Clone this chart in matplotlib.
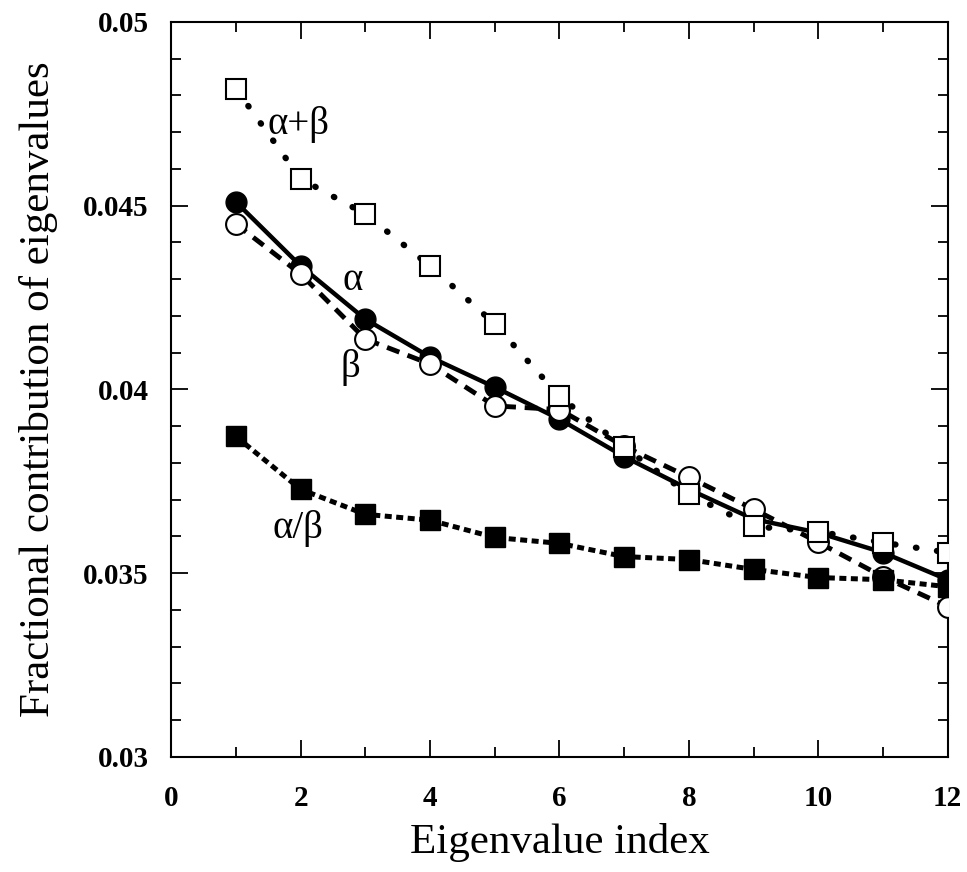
import matplotlib
matplotlib.use("Agg")
import matplotlib.pyplot as plt
from matplotlib.ticker import MultipleLocator, FuncFormatter

idx = [1, 2, 3, 4, 5, 6, 7, 8, 9, 10, 11, 12]
alpha = [0.0451, 0.04336, 0.04191, 0.04088, 0.04006, 0.03919, 0.03817, 0.03728, 0.03647, 0.0361, 0.03556, 0.03482]
beta = [0.0445, 0.04314, 0.04137, 0.04069, 0.03955, 0.03945, 0.03845, 0.03761, 0.03674, 0.03584, 0.0349, 0.03409]
alpha_plus_beta = [0.04818, 0.04573, 0.04477, 0.04336, 0.04178, 0.03981, 0.03842, 0.03715, 0.03627, 0.03613, 0.03583, 0.03556]
alpha_over_beta = [0.03872, 0.03728, 0.0366, 0.03644, 0.03597, 0.03581, 0.03545, 0.03537, 0.0351, 0.03488, 0.03482, 0.03463]

xlabel = "Eigenvalue index"
ylabel = "Fractional contribution of eigenvalues"

fig = plt.figure(figsize=(9.67, 8.72), dpi=100)
ax = fig.add_axes([0.177, 0.132, 0.803, 0.843])

ax.plot(idx, alpha, color="black", lw=3.2, ls="-", marker="o", ms=15,
        mfc="black", mec="black", zorder=3)
ax.plot(idx, beta, color="black", lw=3.5, ls=(0, (2.7, 1.8)), marker="o", ms=15,
        mfc="white", mec="black", mew=1.5, zorder=4)
ax.plot(idx, alpha_over_beta, color="black", lw=3.6, ls=(0, (1.4, 0.9)), marker="s", ms=15,
        mfc="black", mec="black", zorder=5, dash_capstyle="butt")
ax.plot(idx, alpha_plus_beta, color="black", lw=4.5, ls=(0, (0.1, 3.3)), marker="s", ms=15,
        mfc="white", mec="black", mew=1.5, zorder=6, dash_capstyle="round")

tfont = dict(family="Liberation Serif", fontsize=28)
ax.text(1.97, 0.0472, "α+β", ha="center", va="center", **tfont)
ax.text(2.80, 0.04295, "α", ha="center", va="center", **tfont)
ax.text(2.77, 0.0406, "β", ha="center", va="center", **tfont)
ax.text(1.96, 0.03622, "α/β", ha="center", va="center", **tfont)

ax.set_xlim(0, 12)
ax.set_ylim(0.03, 0.05)
ax.xaxis.set_major_locator(MultipleLocator(2))
ax.xaxis.set_minor_locator(MultipleLocator(1))
ax.yaxis.set_major_locator(MultipleLocator(0.005))
ax.yaxis.set_minor_locator(MultipleLocator(0.001))
ax.yaxis.set_major_formatter(FuncFormatter(lambda v, p: "%g" % round(v, 4)))
ax.tick_params(which="both", direction="in", top=True, right=True, width=1.3)
ax.tick_params(which="major", length=12, labelsize=21)
ax.tick_params(axis="y", which="major", pad=16)
ax.tick_params(axis="x", which="major", pad=20)
ax.tick_params(which="minor", length=7)
for lab in ax.get_xticklabels() + ax.get_yticklabels():
    lab.set_family("Liberation Serif")
    lab.set_fontweight("bold")
for s in ax.spines.values():
    s.set_linewidth(1.5)

ax.set_xlabel(xlabel, family="Liberation Serif", fontsize=31, labelpad=8)
ax.set_ylabel(ylabel, family="Liberation Serif", fontsize=31, labelpad=18)

fig.savefig("out.png", dpi=100)
